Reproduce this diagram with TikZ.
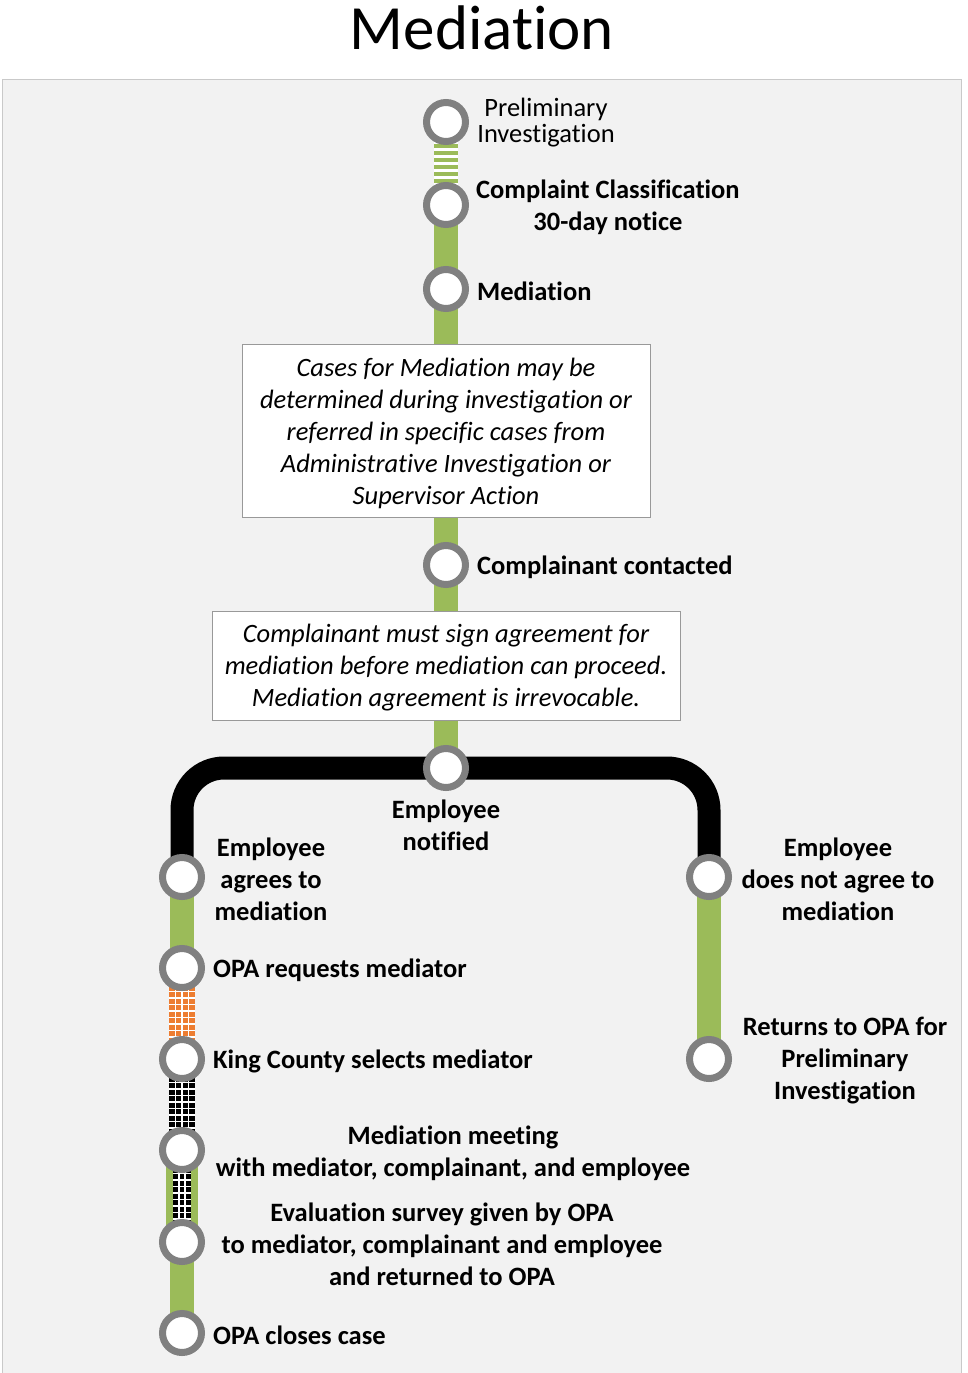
\documentclass[tikz,border=0pt]{standalone}
\usepackage{fontspec}
\setmainfont{Carlito}[Ligatures=NoCommon]
\pgfdeclarelayer{panel}
\pgfdeclarelayer{bg}
\pgfsetlayers{panel,bg,main}
\definecolor{panelfill}{HTML}{F2F2F2}
\definecolor{paneledge}{HTML}{C9C9C9}
\definecolor{track}{HTML}{9BBB59}
\definecolor{ring}{HTML}{808080}
\definecolor{orangetrack}{HTML}{ED7D31}
\tikzset{
  stn/.style={circle, draw=ring, line width=7pt, fill=white, minimum size=39pt, inner sep=0pt},
  lbl/.style={font=\fontsize{26.5}{32}\selectfont\bfseries, inner sep=0pt, align=center},
  plainlbl/.style={font=\fontsize{26.5}{26}\selectfont, inner sep=0pt, align=center},
  notebox/.style={draw=gray!80, fill=white, line width=0.8pt, inner sep=0pt},
  notetext/.style={align=center, inner sep=0pt, font=\fontsize{26.5}{32}\selectfont\itshape},
  greenline/.style={draw=track, line width=24pt},
  blackline/.style={draw=black, line width=23pt, rounded corners=42pt},
}
\begin{document}
\begin{tikzpicture}[x=1pt,y=-1pt]
\useasboundingbox (0,0) rectangle (967,1373);
% background panel
\begin{pgfonlayer}{panel}
\fill[panelfill] (2,79) rectangle (962,1373);
\draw[paneledge, line width=1.2pt] (2.5,1373) -- (2.5,79.5) -- (961.5,79.5) -- (961.5,1373);
\end{pgfonlayer}
% title
\node[font=\fontsize{63}{70}\selectfont, inner sep=0pt] (title) at (482,28) {Mediation};

% stations on the main line
\node[stn] (prelim) at (446,122) {};
\node[stn] (classif) at (446,205) {};
\node[stn] (med) at (446,289) {};
\node[stn] (contact) at (446,565) {};
\node[stn] (notified) at (446,768) {};
% left branch
\node[stn] (agree) at (182,877) {};
\node[stn] (request) at (182,968) {};
\node[stn] (select) at (182,1059) {};
\node[stn] (meeting) at (182,1150) {};
\node[stn] (survey) at (182,1242) {};
\node[stn] (closes) at (182,1333) {};
% right branch
\node[stn] (disagree) at (709,877) {};
\node[stn] (returns) at (709,1059) {};

% note boxes
\node[notebox, minimum width=408pt, minimum height=173pt] (box1) at (446,430.5) {};
\node[notetext, yshift=-3pt] (box1text) at (box1.center)
  {Cases for Mediation may be\\determined during investigation or\\referred in specific cases from\\Administrative Investigation or\\Supervisor Action};
\node[notebox, minimum width=468pt, minimum height=109pt] (box2) at (446,665.5) {};
\node[notetext, yshift=-2.5pt] (box2text) at (box2.center)
  {Complainant must sign agreement for\\mediation before mediation can proceed.\\Mediation agreement is irrevocable.};

\begin{pgfonlayer}{bg}
  % striped segment
  \fill[white] (434,122) rectangle (458,205);
  \foreach \yy in {144,151,...,186} {\fill[track] (434,\yy) rectangle (458,\yy+4);}
  % solid green track
  \draw[greenline] (classif.center) -- (med.center) -- (contact.center) -- (notified.center);
  % branching black line
  \draw[blackline] (agree.center) |- (notified.center) -| (disagree.center);
  % left branch
  \draw[greenline] (agree.center) -- (request.center);
  \draw[draw=orangetrack, line width=26pt] (request.center) -- (select.center);
  \foreach \xx in {175.5,182,188.5} {\draw[white, line width=1.8pt] (\xx,968) -- (\xx,1059);}
  \foreach \yy in {972,978.5,...,1056} {\draw[white, line width=1.8pt] (169,\yy) -- (195,\yy);}
  \draw[draw=black, line width=26pt] (select.center) -- (meeting.center);
  \foreach \xx in {175.5,182,188.5} {\draw[white, line width=1.8pt] (\xx,1059) -- (\xx,1150);}
  \foreach \yy in {1063,1069.5,...,1147} {\draw[white, line width=1.8pt] (169,\yy) -- (195,\yy);}
  \draw[draw=track, line width=32pt] (meeting.center) -- (survey.center);
  \fill[black] (173,1150) rectangle (191,1242);
  \foreach \xx in {179,185} {\draw[white, line width=1.6pt] (\xx,1150) -- (\xx,1242);}
  \foreach \yy in {1154,1160.5,...,1240} {\draw[white, line width=1.6pt] (173,\yy) -- (191,\yy);}
  \draw[greenline] (survey.center) -- (closes.center);
  % right branch
  \draw[greenline] (disagree.center) -- (returns.center);
\end{pgfonlayer}

% station labels
\node[plainlbl] (tprelim) at (546,122.5) {Preliminary\\Investigation};
\node[lbl, anchor=west] (tclassif) at (476,207) {Complaint Classification\\30-day notice};
\node[lbl, anchor=west] (tmed) at (477,291) {Mediation};
\node[lbl, anchor=west] (tcontact) at (477,567) {Complainant contacted};
\node[lbl] (tnotified) at (446,825) {Employee\\notified};
\node[lbl] (tagree) at (271,879) {Employee\\agrees to\\mediation};
\node[lbl] (tdisagree) at (838,879) {Employee\\does not agree to\\mediation};
\node[lbl, anchor=west] (trequest) at (213,970) {OPA requests mediator};
\node[lbl, anchor=west] (tselect) at (213,1061) {King County selects mediator};
\node[lbl] (tmeeting) at (453,1153) {Mediation meeting\\with mediator, complainant, and employee};
\node[lbl] (tsurvey) at (442,1244) {Evaluation survey given by OPA\\to mediator, complainant and employee\\and returned to OPA};
\node[lbl, anchor=west] (tcloses) at (213,1335) {OPA closes case};
\node[lbl] (treturns) at (845,1061) {Returns to OPA for\\Preliminary\\Investigation};
\end{tikzpicture}
\end{document}
